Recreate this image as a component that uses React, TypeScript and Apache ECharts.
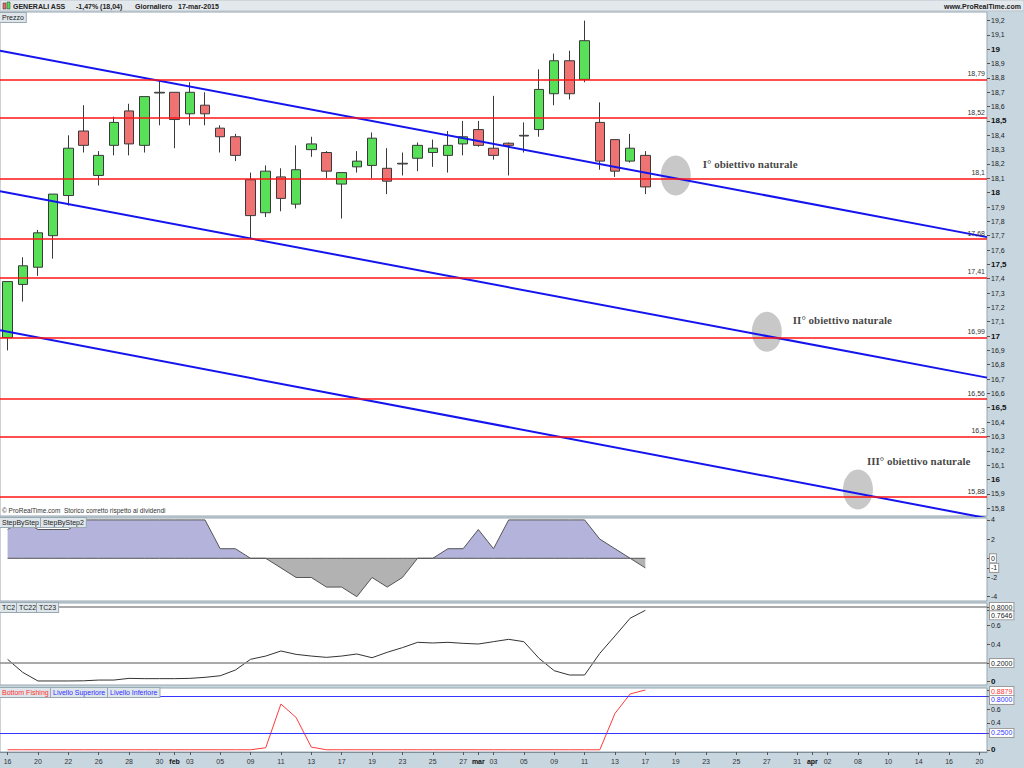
import React, { useEffect, useRef } from "react";
import * as echarts from "echarts";

// ---------- DATA ----------
const dates = [
  "2015-01-16", "2015-01-19", "2015-01-20", "2015-01-21", "2015-01-22", "2015-01-23",
  "2015-01-26", "2015-01-27", "2015-01-28", "2015-01-29", "2015-01-30",
  "2015-02-02", "2015-02-03", "2015-02-04", "2015-02-05", "2015-02-06",
  "2015-02-09", "2015-02-10", "2015-02-11", "2015-02-12", "2015-02-13",
  "2015-02-16", "2015-02-17", "2015-02-18", "2015-02-19", "2015-02-20",
  "2015-02-23", "2015-02-24", "2015-02-25", "2015-02-26", "2015-02-27",
  "2015-03-02", "2015-03-03", "2015-03-04", "2015-03-05", "2015-03-06",
  "2015-03-09", "2015-03-10", "2015-03-11", "2015-03-12", "2015-03-13",
  "2015-03-16", "2015-03-17", "2015-03-18", "2015-03-19", "2015-03-20",
  "2015-03-23", "2015-03-24", "2015-03-25", "2015-03-26", "2015-03-27",
  "2015-03-30", "2015-03-31", "2015-04-01", "2015-04-02",
  "2015-04-07", "2015-04-08", "2015-04-09", "2015-04-10",
  "2015-04-13", "2015-04-14", "2015-04-15", "2015-04-16", "2015-04-17", "2015-04-20",
];

const opens = [16.99, 17.36, 17.48, 17.70, 17.98, 18.43, 18.12, 18.33, 18.57, 18.33, 18.695, 18.70, 18.55, 18.61, 18.45, 18.39, 18.09, 17.86, 18.11, 17.92, 18.30, 18.28, 18.06, 18.18, 18.19, 18.17, 18.20, 18.24, 18.28, 18.26, 18.34, 18.44, 18.31, 18.345, 18.395, 18.44, 18.69, 18.92, 18.79, 18.49, 18.37, 18.22, 18.26];
const closes = [17.38, 17.49, 17.72, 17.99, 18.31, 18.33, 18.26, 18.49, 18.34, 18.67, 18.70, 18.51, 18.70, 18.55, 18.39, 18.26, 17.84, 18.15, 17.96, 18.16, 18.34, 18.15, 18.14, 18.22, 18.38, 18.08, 18.205, 18.33, 18.31, 18.33, 18.39, 18.33, 18.26, 18.33, 18.40, 18.72, 18.92, 18.69, 19.06, 18.22, 18.15, 18.31, 18.04];
const lows = [16.90, 17.24, 17.42, 17.54, 17.91, 18.28, 18.05, 18.26, 18.26, 18.28, 18.47, 18.31, 18.47, 18.47, 18.28, 18.22, 17.68, 17.83, 17.87, 17.89, 18.25, 18.10, 17.82, 18.14, 18.10, 17.99, 18.12, 18.15, 18.18, 18.14, 18.26, 18.32, 18.23, 18.12, 18.28, 18.39, 18.61, 18.65, 18.77, 18.16, 18.11, 18.21, 17.99];
const highs = [17.38, 17.55, 17.74, 17.99, 18.40, 18.61, 18.29, 18.53, 18.62, 18.67, 18.78, 18.70, 18.77, 18.70, 18.47, 18.41, 18.14, 18.19, 18.17, 18.33, 18.39, 18.29, 18.14, 18.29, 18.42, 18.31, 18.28, 18.35, 18.37, 18.43, 18.50, 18.50, 18.675, 18.35, 18.49, 18.86, 18.97, 18.99, 19.20, 18.63, 18.37, 18.41, 18.29];

const levels = [18.79, 18.52, 18.1, 17.68, 17.41, 16.99, 16.56, 16.3, 15.88];
const lastPrice = 18.04;
const trendStart = [18.99, 18.01, 17.04];
const trendEnd = [17.69, 16.71, 15.73];
const targetIndex = [44, 50, 56];
const targetPrice = [18.12, 17.03, 15.93];
const targetNames = ["I° obiettivo naturale", "II° obiettivo naturale", "III° obiettivo naturale"];
const priceTicks = [15.8, 15.9, 16, 16.1, 16.2, 16.3, 16.4, 16.5, 16.6, 16.7, 16.8, 16.9, 17, 17.1, 17.2, 17.3, 17.4, 17.5, 17.6, 17.7, 17.8, 17.9, 18, 18.1, 18.2, 18.3, 18.4, 18.5, 18.6, 18.7, 18.8, 18.9, 19, 19.1, 19.2];

const stepValues = [3, 4, 3, 3, 3, 4, 4, 4, 4, 4, 4, 4, 4, 4, 1, 1, 0, 0, -1, -2, -2, -3, -3, -4, -2, -3, -2, 0, 0, 1, 1, 3, 1, 4, 4, 4, 4, 4, 4, 2, 1, 0, -1];
const stepTicks = [4, 2, -2, -4];

const tc2Values = [0.24, 0.1, 0.008, 0.008, 0.008, 0.01, 0.018, 0.018, 0.036, 0.033, 0.033, 0.033, 0.036, 0.047, 0.064, 0.125, 0.24, 0.275, 0.329, 0.293, 0.275, 0.261, 0.275, 0.297, 0.257, 0.315, 0.365, 0.422, 0.415, 0.422, 0.411, 0.404, 0.429, 0.454, 0.429, 0.25, 0.118, 0.072, 0.072, 0.304, 0.49, 0.68, 0.7646];
const tcLevels = [0.8, 0.2];
const tcTicks = [0, 0.4, 0.6];

const bottomFishing = [0, 0, 0, 0, 0, 0, 0, 0, 0, 0, 0, 0, 0, 0, 0, 0, 0, 0.03, 0.68, 0.48, 0.04, 0, 0, 0, 0, 0, 0, 0, 0, 0, 0, 0, 0, 0, 0, 0, 0, 0, 0, 0, 0.54, 0.83, 0.8879];
const bfLevels = [0.8, 0.25];
const bfTicks = [0, 0.4, 0.6];

const monthNames = ["gen", "feb", "mar", "apr", "mag", "giu", "lug", "ago", "set", "ott", "nov", "dic"];

// ---------- HELPERS ----------
const FONT = '"Liberation Sans", Arial, sans-serif';
const RED = "#ff3030";
const BLUE = "#3535ff";
const comma = (v: number) => String(v).replace(".", ",");
const isMonthStart = (i: number) => i > 0 && dates[i].slice(5, 7) !== dates[i - 1].slice(5, 7);
const showLabel = (i: number) => i % 2 === 0 || isMonthStart(i);
const last = (a: number[]) => a[a.length - 1];

const legendBox = (x: number, y: number, text: string, color = "#222") => ({
  type: "text",
  z: 100,
  x,
  y,
  style: {
    text,
    fill: color,
    fontSize: 7,
    fontFamily: FONT,
    backgroundColor: "#dfe6eb",
    borderColor: "#9aa8b2",
    borderWidth: 1,
    padding: [1, 2, 1, 2],
  },
});

// boxed value labels on the right-hand axes of the indicator panels
const boxedValues = [
  { axis: 1, value: 0, text: "0", color: "#222", dy: 0 },
  { axis: 1, value: last(stepValues), text: String(last(stepValues)), color: "#222", dy: 0 },
  { axis: 2, value: tcLevels[0], text: tcLevels[0].toFixed(4), color: "#222", dy: 0 },
  { axis: 2, value: last(tc2Values), text: last(tc2Values).toFixed(4), color: "#222", dy: 5 },
  { axis: 2, value: tcLevels[1], text: tcLevels[1].toFixed(4), color: "#222", dy: 0 },
  { axis: 3, value: last(bottomFishing), text: last(bottomFishing).toFixed(4), color: RED, dy: 1 },
  { axis: 3, value: bfLevels[0], text: bfLevels[0].toFixed(4), color: BLUE, dy: 4 },
  { axis: 3, value: bfLevels[1], text: bfLevels[1].toFixed(4), color: BLUE, dy: 0 },
];

function staticGraphic() {
  return [
    { type: "rect", z: 100, shape: { x: 0, y: 0, width: 1024, height: 11 }, style: { fill: "#e3e8ec", stroke: "#b9c4cc", lineWidth: 1 } },
    { type: "rect", z: 101, shape: { x: 3, y: 3, width: 3, height: 6 }, style: { fill: "#ee6666", stroke: "#333", lineWidth: 0.5 } },
    { type: "rect", z: 101, shape: { x: 7, y: 2, width: 3, height: 7 }, style: { fill: "#55dd55", stroke: "#333", lineWidth: 0.5 } },
    { type: "text", z: 101, x: 13, y: 6, style: { text: "GENERALI ASS", fill: "#222", fontSize: 7, fontWeight: "bold", fontFamily: FONT, verticalAlign: "middle" } },
    { type: "text", z: 101, x: 76, y: 6, style: { text: "-1,47% (18,04)", fill: "#222", fontSize: 7, fontWeight: "bold", fontFamily: FONT, verticalAlign: "middle" } },
    { type: "text", z: 101, x: 135, y: 6, style: { text: "Giornaliero", fill: "#222", fontSize: 7, fontWeight: "bold", fontFamily: FONT, verticalAlign: "middle" } },
    { type: "text", z: 101, x: 178, y: 6, style: { text: "17-mar-2015", fill: "#222", fontSize: 7, fontWeight: "bold", fontFamily: FONT, verticalAlign: "middle" } },
    { type: "text", z: 101, x: 1021, y: 6, style: { text: "www.ProRealTime.com", fill: "#222", fontSize: 7, fontWeight: "bold", fontFamily: FONT, align: "right", verticalAlign: "middle" } },
    legendBox(0, 13, "Prezzo"),
    legendBox(0, 518, "StepByStep"),
    legendBox(41, 518, "StepByStep2"),
    legendBox(0, 603, "TC2"),
    legendBox(17, 603, "TC22"),
    legendBox(37, 603, "TC23"),
    legendBox(0, 688, "Bottom Fishing", RED),
    legendBox(51, 688, "Livello Superiore", "#3030ff"),
    legendBox(108, 688, "Livello Inferiore", "#3030ff"),
    { type: "text", z: 100, x: 2, y: 510, style: { text: "© ProRealTime.com  Storico corretto rispetto ai dividendi", fill: "#333", fontSize: 6.5, fontFamily: FONT, verticalAlign: "middle" } },
  ];
}

function buildOption() {
  const L = 0;
  const R = 37;
  const grids = [
    { left: L, right: R, top: 12, height: 504 },
    { left: L, right: R, top: 518, height: 83 },
    { left: L, right: R, top: 603, height: 82 },
    { left: L, right: R, top: 688, height: 64 },
  ].map((g) => ({ ...g, show: true, backgroundColor: "#ffffff", borderColor: "#98a6b0", borderWidth: 1 }));

  const hiddenCat = (gridIndex: number) => ({
    type: "category",
    gridIndex,
    data: dates,
    show: false,
    axisLine: { onZero: false },
  });

  const axisLabelBase = { fontSize: 7, color: "#222", fontFamily: FONT, margin: 4, hideOverlap: false };
  const yLine = { show: false, onZero: false };
  const boldRich = { b: { fontSize: 8, fontWeight: "bold", color: "#111", fontFamily: FONT } };
  const tickVals = (ticks: number[], axis: number) => [...ticks, ...boxedValues.filter((b) => b.axis === axis).map((b) => b.value)];

  return {
    animation: false,
    backgroundColor: "#c8d6e0",
    grid: grids,
    xAxis: [
      hiddenCat(0),
      hiddenCat(1),
      hiddenCat(2),
      {
        type: "category",
        gridIndex: 3,
        data: dates,
        axisLine: { show: true, onZero: false, lineStyle: { color: "#7f8f9a" } },
        axisTick: { show: true, interval: (i: number) => showLabel(i), alignWithLabel: true, length: 3, lineStyle: { color: "#555" } },
        axisLabel: {
          interval: (i: number) => showLabel(i),
          hideOverlap: false,
          fontSize: 7,
          color: "#333",
          fontFamily: FONT,
          margin: 6,
          formatter: (v: string, i: number) =>
            isMonthStart(i) ? `{m|${monthNames[Number(v.slice(5, 7)) - 1]}}` : v.slice(8, 10),
          rich: { m: { fontSize: 7, fontWeight: "bold", color: "#111", fontFamily: FONT } },
        },
      },
      { type: "value", gridIndex: 0, min: -0.5, max: 64.5, show: false, axisLine: { onZero: false } },
    ],
    yAxis: [
      {
        type: "value",
        gridIndex: 0,
        position: "right",
        min: 15.745,
        max: 19.26,
        splitLine: { show: false },
        axisLine: yLine,
        axisTick: { show: true, customValues: priceTicks, length: 3, lineStyle: { color: "#555" } },
        axisLabel: {
          ...axisLabelBase,
          customValues: priceTicks,
          formatter: (v: number) => {
            const s = comma(Number(v.toFixed(1)));
            return Math.abs(v * 2 - Math.round(v * 2)) < 1e-6 ? `{b|${s}}` : s;
          },
          rich: boldRich,
        },
      },
      {
        type: "value",
        gridIndex: 1,
        position: "right",
        min: -4.45,
        max: 4.2,
        splitLine: { show: false },
        axisLine: yLine,
        axisTick: { show: true, customValues: tickVals(stepTicks, 1), length: 3, lineStyle: { color: "#555" } },
        axisLabel: { ...axisLabelBase, customValues: stepTicks },
      },
      {
        type: "value",
        gridIndex: 2,
        position: "right",
        min: -0.035,
        max: 0.843,
        splitLine: { show: false },
        axisLine: yLine,
        axisTick: { show: true, customValues: tickVals(tcTicks, 2), length: 3, lineStyle: { color: "#555" } },
        axisLabel: {
          ...axisLabelBase,
          customValues: tcTicks,
          formatter: (v: number) => (v === 0 ? "{b|0}" : String(v)),
          rich: boldRich,
        },
      },
      {
        type: "value",
        gridIndex: 3,
        position: "right",
        min: -0.033,
        max: 0.918,
        splitLine: { show: false },
        axisLine: yLine,
        axisTick: { show: true, customValues: tickVals(bfTicks, 3), length: 3, lineStyle: { color: "#555" } },
        axisLabel: {
          ...axisLabelBase,
          customValues: bfTicks,
          formatter: (v: number) => (v === 0 ? "{b|0}" : String(v)),
          rich: boldRich,
        },
      },
    ],
    series: [
      // target ellipses with texts
      {
        type: "scatter",
        xAxisIndex: 4,
        yAxisIndex: 0,
        z: 1,
        symbol: "circle",
        symbolSize: [30, 40],
        itemStyle: { color: "#bababa" },
        data: targetIndex.map((x, i) => ({
          value: [x, targetPrice[i]],
          name: targetNames[i],
          label: [
            { distance: 12, offset: [0, -11] },
            { distance: 11, offset: [0, -12] },
            { distance: -6, offset: [0, -28] },
          ][i],
        })),
        label: {
          show: true,
          position: "right",
          formatter: (p: any) => p.name,
          fontFamily: '"Liberation Serif", "Times New Roman", serif',
          fontWeight: "bold",
          fontSize: 11,
          color: "#111",
        },
      },
      {
        type: "candlestick",
        xAxisIndex: 0,
        yAxisIndex: 0,
        z: 2,
        barWidth: 10,
        data: opens.map((o, i) => [o, closes[i], lows[i], highs[i]]),
        itemStyle: {
          color: "#58e058",
          color0: "#ef7373",
          borderColor: "#3a3a3a",
          borderColor0: "#3a3a3a",
          borderWidth: 1,
        },
        markLine: {
          silent: true,
          symbol: ["none", "none"],
          precision: 2,
          lineStyle: { color: "#ff1414", width: 1.5, type: "solid" },
          label: {
            show: true,
            position: "insideEndTop",
            distance: 2,
            formatter: (p: any) => comma(p.value),
            fontSize: 7,
            fontFamily: FONT,
            color: "#333",
          },
          data: [
            ...levels.map((v) => ({ yAxis: v })),
            {
              yAxis: lastPrice,
              lineStyle: { opacity: 0 },
              label: {
                show: true,
                position: "end",
                distance: 1,
                formatter: comma(lastPrice),
                backgroundColor: "#f6c400",
                padding: [2, 2, 1, 2],
                fontSize: 7,
                fontFamily: FONT,
                color: "#222",
              },
            },
          ],
        },
      },
      ...trendStart.map((s, i) => ({
        type: "line",
        xAxisIndex: 4,
        yAxisIndex: 0,
        z: 3,
        symbol: "none",
        silent: true,
        data: [
          [-0.5, s],
          [64.5, trendEnd[i]],
        ],
        lineStyle: { color: "#1414ee", width: 2 },
      })),
      // StepByStep
      {
        type: "line",
        xAxisIndex: 1,
        yAxisIndex: 1,
        symbol: "none",
        data: stepValues.map((v) => Math.max(v, 0)),
        lineStyle: { color: "#555", width: 1 },
        areaStyle: { color: "#b3b3dc", opacity: 1 },
      },
      {
        type: "line",
        xAxisIndex: 1,
        yAxisIndex: 1,
        symbol: "none",
        data: stepValues.map((v) => Math.min(v, 0)),
        lineStyle: { color: "#555", width: 1 },
        areaStyle: { color: "#b2b2b2", opacity: 1 },
      },
      // TC2
      {
        type: "line",
        xAxisIndex: 2,
        yAxisIndex: 2,
        symbol: "none",
        data: tc2Values,
        lineStyle: { color: "#333", width: 1 },
        markLine: {
          silent: true,
          symbol: ["none", "none"],
          label: { show: false },
          lineStyle: { color: "#8c8c8c", width: 1.5, type: "solid" },
          data: tcLevels.map((v) => ({ yAxis: v })),
        },
      },
      // Bottom fishing
      {
        type: "line",
        xAxisIndex: 3,
        yAxisIndex: 3,
        symbol: "none",
        data: bottomFishing,
        lineStyle: { color: "#ff3a3a", width: 1 },
        markLine: {
          silent: true,
          symbol: ["none", "none"],
          label: { show: false },
          lineStyle: { color: BLUE, width: 1, type: "solid" },
          data: bfLevels.map((v) => ({ yAxis: v })),
        },
      },
    ],
    graphic: staticGraphic(),
  };
}

export default function App() {
  const ref = useRef<HTMLDivElement>(null);
  useEffect(() => {
    const chart = echarts.init(ref.current as HTMLDivElement, null, { renderer: "svg" });
    const option: any = buildOption();
    chart.setOption(option);
    // place the boxed value labels at the pixel positions of their values
    const boxes = boxedValues.map((b) => {
      const y = chart.convertToPixel({ yAxisIndex: b.axis } as any, b.value) as unknown as number;
      return {
        type: "text",
        z: 110,
        x: 990,
        y: y + b.dy,
        style: {
          text: b.text,
          fill: b.color,
          fontSize: 7,
          fontFamily: FONT,
          verticalAlign: "middle",
          backgroundColor: "#ffffff",
          borderColor: "#9a9a9a",
          borderWidth: 1,
          padding: [1, 1, 0, 1],
        },
      };
    });
    chart.setOption({ ...option, graphic: [...staticGraphic(), ...boxes] }, { notMerge: true });
    return () => chart.dispose();
  }, []);
  return (
    <div
      ref={ref}
      style={{ position: "fixed", left: 0, top: 0, width: 1024, height: 768, background: "#c8d6e0" }}
    />
  );
}
